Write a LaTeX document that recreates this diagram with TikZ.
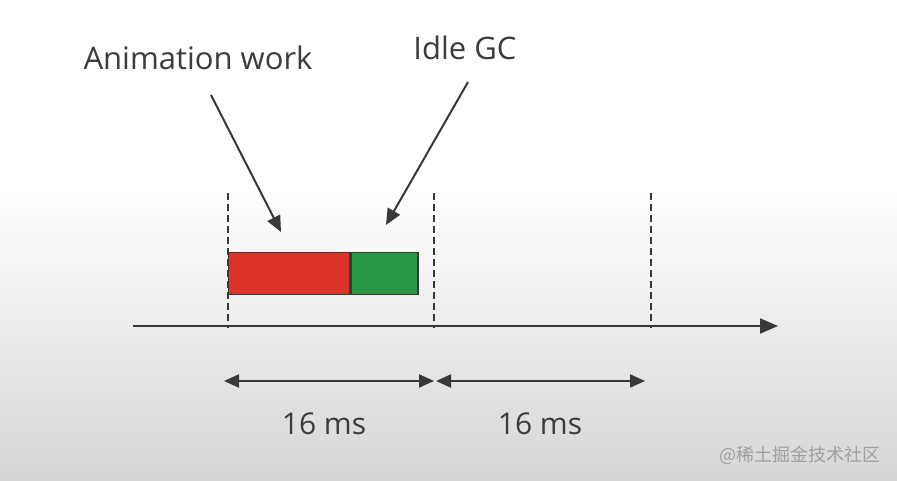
\documentclass[tikz,border=0pt]{standalone}
\usepackage{fontspec}
\setmainfont{Open Sans}
\newfontfamily\cjkfont{Noto Sans CJK SC}
\usetikzlibrary{arrows.meta}

\definecolor{inkgrey}{HTML}{383838}
\definecolor{txtgrey}{HTML}{3C3C3C}
\definecolor{bggrey}{HTML}{D6D6D6}
\definecolor{workred}{HTML}{DC3329}
\definecolor{gcgreen}{HTML}{2A9745}

\tikzset{
  lbl/.style={font=\fontsize{31}{36}\selectfont, text=txtgrey, inner sep=0pt},
  pointer/.style={draw=inkgrey, line width=2pt, -{Triangle[length=16pt,width=14pt]}},
  frametick/.style={draw=inkgrey, line width=1.6pt, dash pattern=on 7pt off 4pt},
  bar/.style={draw=inkgrey, line width=1.3pt, inner sep=0pt, anchor=north west, minimum height=42pt},
  span/.style={draw=inkgrey, line width=2pt, {Triangle[length=15pt,width=13pt]}-{Triangle[length=15pt,width=13pt]}}
}

\begin{document}
\begin{tikzpicture}[x=1pt, y=-1pt]

	% background
	\useasboundingbox (0,0) rectangle (897,481);
	\fill[white] (0,0) rectangle (897,190);
	\shade[top color=white, bottom color=bggrey] (0,190) rectangle (897,481);

	% labels
	\node[lbl] (anim) at (198,58) {Animation work};
	\node[lbl] (idle) at (465,48) {Idle GC};
	\coordinate (animtail) at (211,95);
	\coordinate (animhead) at (281,232);
	\coordinate (idletail) at (468,82);
	\coordinate (idlehead) at (386,225);
	\draw[pointer] (animtail) -- (animhead);
	\draw[pointer] (idletail) -- (idlehead);

	% frame boundaries
	\coordinate (f0top) at (228,193);
	\coordinate (f0bot) at (228,328);
	\coordinate (f1top) at (434,193);
	\coordinate (f1bot) at (434,328);
	\coordinate (f2top) at (651,193);
	\coordinate (f2bot) at (651,328);
	\draw[frametick] (f0top) -- (f0bot);
	\draw[frametick] (f1top) -- (f1bot);
	\draw[frametick] (f2top) -- (f2bot);

	% work blocks
	\node[bar, fill=workred, minimum width=121pt] (work) at (228,252) {};
	\node[bar, fill=gcgreen, minimum width=67pt] (gc) at (work.north east) {};

	% time axis
	\coordinate (axisstart) at (133,326);
	\coordinate (axisend) at (778,326);
	\draw[draw=inkgrey, line width=2pt, -{Triangle[length=18pt,width=15pt]}] (axisstart) -- (axisend);

	% frame spans
	\coordinate (s0l) at (224,381);
	\coordinate (s0r) at (434,381);
	\coordinate (s1l) at (436,381);
	\coordinate (s1r) at (645,381);
	\draw[span] (s0l) -- (s0r);
	\draw[span] (s1l) -- (s1r);
	\node[lbl, font=\fontsize{30}{34}\selectfont] (ms0) at (324,424) {16 ms};
	\node[lbl, font=\fontsize{30}{34}\selectfont] (ms1) at (540,424) {16 ms};

	% watermark
	\node[text=gray!75, font=\cjkfont\fontsize{18}{20}\selectfont, inner sep=0pt] (mark) at (800,455) {@稀土掘金技术社区};

\end{tikzpicture}
\end{document}
